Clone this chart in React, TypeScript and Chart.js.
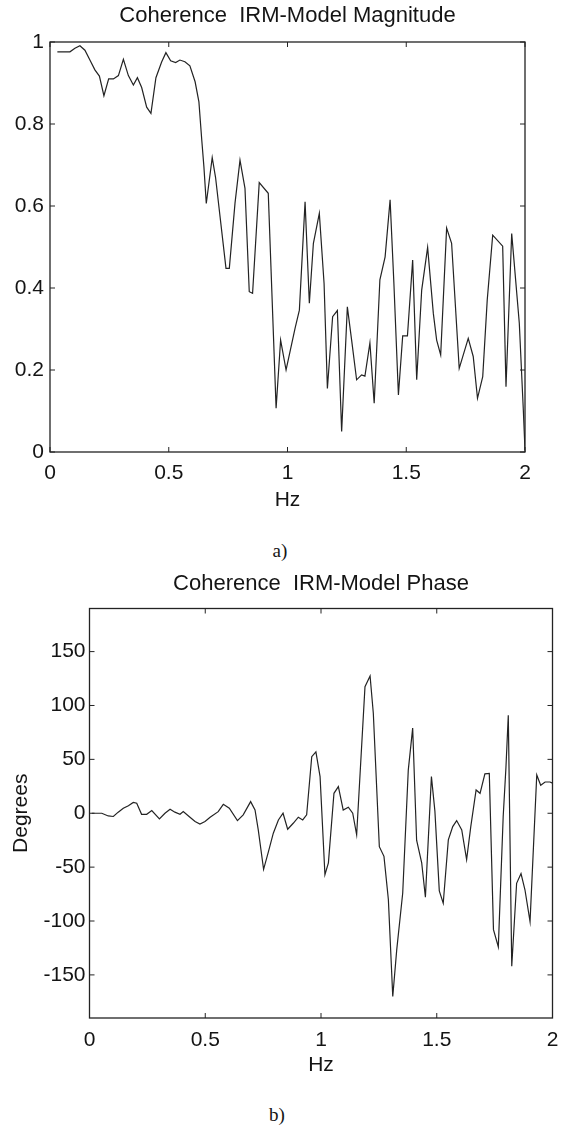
import React, { useEffect, useRef } from "react";
import { Chart, registerables } from "chart.js";

Chart.register(...registerables);

// ---------- data ----------
const MAG_HZ = [
  0.031, 0.084, 0.105, 0.126, 0.147, 0.168, 0.189, 0.208, 0.227, 0.247, 0.267, 0.288, 0.309, 0.33, 0.351,
  0.368, 0.386, 0.407, 0.425, 0.446, 0.47, 0.488, 0.508, 0.529, 0.547, 0.568, 0.589, 0.611, 0.627, 0.639,
  0.648, 0.658, 0.683, 0.697, 0.741, 0.755, 0.779, 0.8, 0.821, 0.839, 0.853, 0.881, 0.919, 0.952, 0.971,
  0.994, 1.032, 1.05, 1.074, 1.092, 1.109, 1.134, 1.154, 1.168, 1.19, 1.21, 1.228, 1.252, 1.27, 1.291,
  1.312, 1.326, 1.347, 1.365, 1.389, 1.411, 1.432, 1.448, 1.467, 1.485, 1.505, 1.527, 1.544, 1.565, 1.59,
  1.614, 1.628, 1.645, 1.67, 1.691, 1.723, 1.761, 1.782, 1.8, 1.822, 1.841, 1.864, 1.906, 1.92, 1.944,
  1.951, 1.976, 1.993, 2.0,
];
const MAGNITUDE = [
  0.976, 0.976, 0.985, 0.991, 0.98, 0.956, 0.932, 0.917, 0.869, 0.91, 0.91, 0.918, 0.958, 0.918, 0.895,
  0.913, 0.889, 0.841, 0.826, 0.913, 0.951, 0.974, 0.954, 0.95, 0.956, 0.952, 0.942, 0.903, 0.854, 0.761,
  0.696, 0.606, 0.718, 0.67, 0.448, 0.448, 0.607, 0.712, 0.643, 0.391, 0.387, 0.657, 0.631, 0.107, 0.273,
  0.2, 0.302, 0.346, 0.61, 0.363, 0.509, 0.582, 0.411, 0.155, 0.33, 0.345, 0.05, 0.354, 0.273, 0.176,
  0.188, 0.185, 0.266, 0.119, 0.42, 0.476, 0.615, 0.411, 0.139, 0.283, 0.283, 0.468, 0.176, 0.395, 0.499,
  0.338, 0.273, 0.237, 0.546, 0.509, 0.204, 0.277, 0.233, 0.131, 0.184, 0.371, 0.529, 0.502, 0.159, 0.533,
  0.485, 0.314, 0.102, 0.005,
];

const PHASE_HZ = [
  0.01, 0.053, 0.081, 0.103, 0.124, 0.146, 0.168, 0.189, 0.204, 0.225, 0.247, 0.269, 0.302, 0.326, 0.348,
  0.369, 0.391, 0.405, 0.434, 0.456, 0.477, 0.499, 0.521, 0.556, 0.578, 0.604, 0.639, 0.664, 0.696, 0.715,
  0.729, 0.752, 0.773, 0.794, 0.816, 0.836, 0.856, 0.88, 0.902, 0.921, 0.938, 0.96, 0.978, 0.996, 1.017,
  1.032, 1.056, 1.075, 1.096, 1.118, 1.137, 1.154, 1.19, 1.212, 1.226, 1.252, 1.272, 1.291, 1.31, 1.327,
  1.353, 1.377, 1.396, 1.413, 1.435, 1.451, 1.477, 1.492, 1.511, 1.528, 1.55, 1.569, 1.586, 1.608, 1.629,
  1.647, 1.67, 1.687, 1.708, 1.727, 1.745, 1.766, 1.787, 1.799, 1.809, 1.824, 1.845, 1.864, 1.881, 1.903,
  1.932, 1.949, 1.968, 1.989, 2.0,
];
const PHASE_DEG = [
  0, 0, -2.5, -3, 1, 4.6, 7, 10, 9.3, -1, -1, 2.5, -5.2, 0, 3.7,
  1, -1, 1.5, -3.7, -7.7, -10, -7.7, -3.7, 1.5, 8.3, 4.6, -6.8, -1.5, 10.8, 3,
  -15.5, -52, -35.6, -18.5, -6.2, 0, -14.8, -9.3, -3.7, -6.2, -1.5, 52.5, 57, 34, -57,
  -46, 18.5, 24.7, 3, 5.6, 0, -20, 117.5, 127.4, 92.8, -31, -40, -80, -170, -127,
  -74, 40, 79, -25, -46, -78, 34, 2, -72, -83.5, -24.7, -12.4, -6.8, -15.5, -43,
  -12.4, 21.6, 18.5, 36.5, 37, -108, -124, -3, 43, 91, -142, -65, -56, -71, -100.5,
  35.5, 26, 29, 29, 28,
];

const HZ_TICKS = [0, 0.5, 1, 1.5, 2];
const MAG_TICKS = [0, 0.2, 0.4, 0.6, 0.8, 1];
const PHASE_TICKS = [-150, -100, -50, 0, 50, 100, 150];

const FONT = "'Liberation Sans', Arial, Helvetica, sans-serif";
const INK = "#141414";
const LINE = "#232323";

// MATLAB-style box with inward ticks on all four sides
const boxPlugin = {
  id: "matlabBox",
  afterDatasetsDraw(chart: any) {
    const { ctx, chartArea: a, scales } = chart;
    const L = 5;
    ctx.save();
    ctx.strokeStyle = LINE;
    ctx.lineWidth = 1.3;
    ctx.strokeRect(a.left, a.top, a.right - a.left, a.bottom - a.top);
    ctx.lineWidth = 1;
    ctx.beginPath();
    scales.x.ticks.forEach((t: any) => {
      const px = scales.x.getPixelForValue(t.value);
      ctx.moveTo(px, a.bottom);
      ctx.lineTo(px, a.bottom - L);
      ctx.moveTo(px, a.top);
      ctx.lineTo(px, a.top + L);
    });
    scales.y.ticks.forEach((t: any) => {
      const py = scales.y.getPixelForValue(t.value);
      ctx.moveTo(a.left, py);
      ctx.lineTo(a.left + L, py);
      ctx.moveTo(a.right, py);
      ctx.lineTo(a.right - L, py);
    });
    ctx.stroke();
    ctx.restore();
  },
};

type Spec = {
  title: string;
  xs: number[];
  ys: number[];
  yMin: number;
  yMax: number;
  yTicks: number[];
  yTitle?: string;
  yWidth: number;
  yTitlePad: number;
  yTickPad: number;
  rightPad: number;
  titlePadTop: number;
  titlePadBottom: number;
  xHeight: number;
  xTickPad: number;
  hzPadBottom: number;
};

function makeConfig(s: Spec): any {
  const font = { family: FONT, size: 21, weight: "normal" as const, lineHeight: 1.2 };
  const titleFont = { family: FONT, size: 22, weight: "normal" as const, lineHeight: 1.2 };
  return {
    type: "line",
    data: {
      datasets: [
        {
          data: s.xs.map((x, i) => ({ x, y: s.ys[i] })),
          borderColor: LINE,
          borderWidth: 1.2,
          pointRadius: 0,
          tension: 0,
          fill: false,
        },
      ],
    },
    options: {
      animation: false,
      responsive: false,
      maintainAspectRatio: false,
      events: [],
      layout: { padding: { left: 0, right: s.rightPad, top: 0, bottom: 0 } },
      plugins: {
        legend: { display: false },
        tooltip: { enabled: false },
        title: {
          display: true,
          fullSize: false,
          text: s.title,
          color: INK,
          font: titleFont,
          padding: { top: s.titlePadTop, bottom: s.titlePadBottom },
        },
      },
      scales: {
        x: {
          type: "linear",
          min: 0,
          max: 2,
          grid: { display: false, drawTicks: false },
          border: { display: false },
          ticks: { color: INK, font, padding: s.xTickPad, maxRotation: 0, callback: (v: number) => String(v) },
          afterBuildTicks: (sc: any) => {
            sc.ticks = HZ_TICKS.map((v) => ({ value: v }));
          },
          title: { display: true, text: "Hz", color: INK, font, padding: { top: 0, bottom: s.hzPadBottom } },
          afterFit: (sc: any) => {
            sc.height = s.xHeight;
          },
        },
        y: {
          type: "linear",
          min: s.yMin,
          max: s.yMax,
          grid: { display: false, drawTicks: false },
          border: { display: false },
          ticks: { color: INK, font, padding: s.yTickPad, callback: (v: number) => String(v) },
          afterBuildTicks: (sc: any) => {
            sc.ticks = s.yTicks.map((v) => ({ value: v }));
          },
          title: s.yTitle
            ? { display: true, text: s.yTitle, color: INK, font, padding: { top: s.yTitlePad, bottom: 0 } }
            : { display: false },
          afterFit: (sc: any) => {
            sc.width = s.yWidth;
          },
        },
      },
    },
    plugins: [boxPlugin],
  };
}

function Plot({ spec, top, height }: { spec: Spec; top: number; height: number }) {
  const ref = useRef<HTMLCanvasElement | null>(null);
  useEffect(() => {
    if (!ref.current) return;
    const chart = new Chart(ref.current, makeConfig(spec));
    return () => chart.destroy();
  }, []);
  return (
    <canvas
      ref={ref}
      width={568}
      height={height}
      style={{ position: "absolute", left: 0, top, width: 568, height }}
    />
  );
}

const magSpec: Spec = {
  title: "Coherence  IRM-Model Magnitude",
  xs: MAG_HZ,
  ys: MAGNITUDE,
  yMin: 0,
  yMax: 1,
  yTicks: MAG_TICKS,
  yWidth: 50,
  yTitlePad: 0,
  yTickPad: 6,
  rightPad: 43,
  titlePadTop: 2.8,
  titlePadBottom: 12.8,
  xHeight: 68,
  xTickPad: 8.4,
  hzPadBottom: 7.4,
};

const phaseSpec: Spec = {
  title: "Coherence  IRM-Model Phase",
  xs: PHASE_HZ,
  ys: PHASE_DEG,
  yMin: -190,
  yMax: 190,
  yTicks: PHASE_TICKS,
  yTitle: "Degrees",
  yWidth: 89.5,
  yTitlePad: 8.4,
  yTickPad: 4,
  rightPad: 15.5,
  titlePadTop: 10.8,
  titlePadBottom: 11.3,
  xHeight: 62,
  xTickPad: 9.4,
  hzPadBottom: 2.4,
};

export default function App() {
  const caption: React.CSSProperties = {
    position: "absolute",
    fontFamily: "'Liberation Serif', 'DejaVu Serif', serif",
    fontSize: 19,
    lineHeight: "19px",
    color: INK,
    width: 40,
    textAlign: "center",
  };
  return (
    <div style={{ position: "absolute", left: 0, top: 0, width: 568, height: 1128, background: "#fff", overflow: "hidden" }}>
      <Plot spec={magSpec} top={0} height={520} />
      <div style={{ ...caption, left: 260, top: 541 }}>a)</div>
      <Plot spec={phaseSpec} top={560} height={520} />
      <div style={{ ...caption, left: 257, top: 1105 }}>b)</div>
    </div>
  );
}
